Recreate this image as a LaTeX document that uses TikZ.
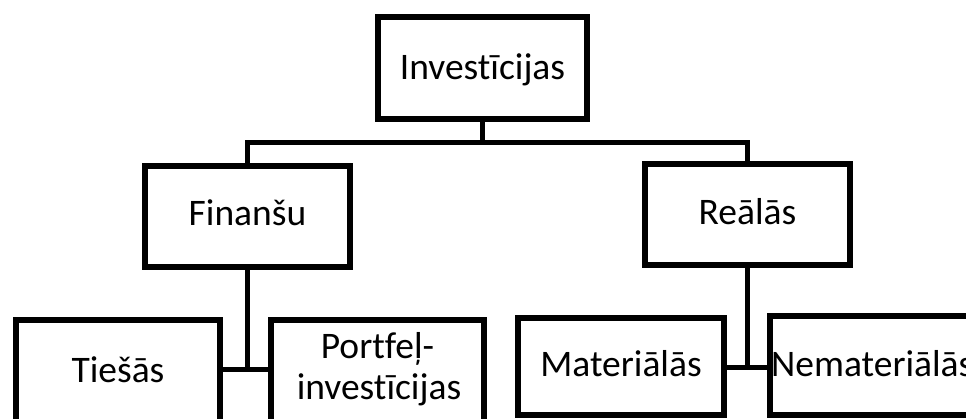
\documentclass[tikz,border=0pt]{standalone}
\usepackage{fontspec}
\setmainfont{Carlito}[Ligatures=NoCommon]
\begin{document}
\begin{tikzpicture}[x=1pt,y=-1pt,
  box/.style={draw=black, line width=6pt, rectangle, inner sep=0pt, fill=white},
  lbl/.style={inner sep=0pt, anchor=base, font=\fontsize{37.5}{45}\selectfont},
  conn/.style={draw=black, line width=5.5pt}]
\useasboundingbox (0,0) rectangle (966,419);
\clip (0,0) rectangle (966,419);
\fill[white] (0,0) rectangle (966,419);
% boxes
\node[box, minimum width=209pt, minimum height=102pt] (inv) at (482.5,68) {};
\node[box, minimum width=205pt, minimum height=101pt] (fin) at (247.5,216.5) {};
\node[box, minimum width=205pt, minimum height=101pt] (real) at (747.5,214.5) {};
\node[box, minimum width=204pt, minimum height=120pt] (ties) at (118,380) {};
\node[box, minimum width=213pt, minimum height=120pt] (portf) at (377.5,380) {};
\node[box, minimum width=206pt, minimum height=97pt] (mat) at (621,366.5) {};
\node[box, minimum width=230pt, minimum height=99pt] (nemat) at (885,365.5) {};
% texts
\node[lbl] (invT) at (482.5,80) {Investīcijas};
\node[lbl] (finT) at (247.5,226) {Finanšu};
\node[lbl] (realT) at (747.5,225) {Reālās};
\node[lbl] (tiesT) at (118,382) {Tiešās};
\node[lbl] (portfT1) at (377.5,359) {Portfeļ-};
\node[lbl] (portfT2) at (379,399) {investīcijas};
\node[lbl] (matT) at (621,377) {Materiālās};
\node[lbl, anchor=base west] (nematT) at (771,377) {Nemateriālās};
% connectors
\coordinate (bus) at (482.5,142.5);
\coordinate (jL) at (247.5,369.5);
\coordinate (jR) at (747.5,367.5);
\draw[conn] (inv.south) -- (inv.south |- bus);
\draw[conn] (fin.north) -- (fin.north |- bus) -- (real.north |- bus) -- (real.north);
\draw[conn] (fin.south) -- (jL);
\draw[conn] (ties.east |- jL) -- (portf.west |- jL);
\draw[conn] (real.south) -- (jR);
\draw[conn] (mat.east |- jR) -- (nemat.west |- jR);
\end{tikzpicture}
\end{document}
